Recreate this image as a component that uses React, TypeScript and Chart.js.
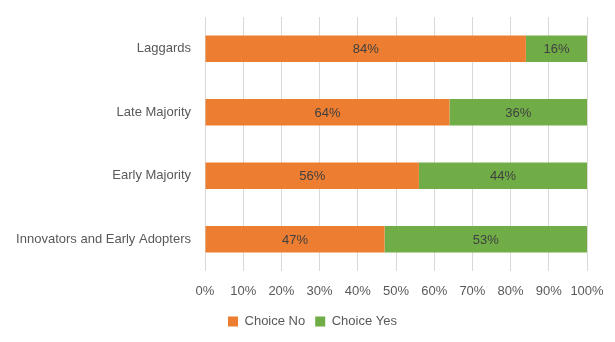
import React, { useEffect, useRef } from "react";
import { Chart, registerables } from "chart.js";

Chart.register(...registerables);

const categories = ["Laggards", "Late Majority", "Early Majority", "Innovators and Early Adopters"];
const choiceNo = [84, 64, 56, 47];
const choiceYes = [16, 36, 44, 53];
const seriesNames = ["Choice No", "Choice Yes"];
const FONT = "'Liberation Sans', Arial, sans-serif";

const labelPlugin = {
  id: "barLabels",
  afterLayout(chart: any) {
    const l = chart.legend;
    if (l) {
      l.left += 19;
      l.right += 19;
    }
  },
  afterDatasetsDraw(chart: any) {
    const ctx = chart.ctx;
    ctx.save();
    ctx.font = `13px ${FONT}`;
    ctx.fillStyle = "#404040";
    ctx.textAlign = "center";
    ctx.textBaseline = "middle";
    chart.data.datasets.forEach((ds: any, di: number) => {
      const meta = chart.getDatasetMeta(di);
      meta.data.forEach((el: any, i: number) => {
        const x = (el.x + el.base) / 2;
        ctx.fillText(ds.data[i] + "%", x, el.y + 1);
      });
    });
    ctx.restore();
  },
};

export default function App() {
  const ref = useRef<HTMLCanvasElement>(null);
  useEffect(() => {
    document.body.style.margin = "0";
    const chart = new Chart(ref.current!, {
      type: "bar",
      data: {
        labels: categories,
        datasets: [
          { label: seriesNames[0], data: choiceNo, backgroundColor: "#ED7D31", categoryPercentage: 0.8, barPercentage: 0.52 },
          { label: seriesNames[1], data: choiceYes, backgroundColor: "#70AD47", categoryPercentage: 0.8, barPercentage: 0.52 },
        ],
      },
      options: {
        indexAxis: "y",
        animation: false,
        responsive: false,
        layout: { padding: { top: 17, right: 28, left: 0, bottom: 4 } },
        scales: {
          x: {
            stacked: true,
            min: 0,
            max: 100,
            ticks: { stepSize: 10, callback: (v: any) => v + "%", color: "#595959", font: { family: FONT, size: 13 }, padding: 13, maxRotation: 0 },
            grid: { color: "#D9D9D9", drawTicks: false },
            border: { display: false },
            afterFit: (s: any) => { s.height = 34; s.paddingLeft = 0; s.paddingRight = 0; },
          },
          y: {
            stacked: true,
            ticks: { color: "#595959", font: { family: FONT, size: 13 }, padding: 14 },
            grid: { display: false, drawTicks: false },
            border: { display: false },
            afterFit: (s: any) => { s.width = 205; s.paddingTop = 0; s.paddingBottom = 0; },
          },
        },
        plugins: {
          legend: {
            position: "bottom",
            labels: { boxWidth: 10, boxHeight: 10, color: "#595959", font: { family: FONT, size: 13 }, padding: 10 },
          },
          tooltip: { enabled: false },
        },
      },
      plugins: [labelPlugin],
    });
    return () => chart.destroy();
  }, []);
  return (
    <div style={{ width: 615, height: 342 }}>
      <canvas ref={ref} width={615} height={342} style={{ display: "block" }} />
    </div>
  );
}
